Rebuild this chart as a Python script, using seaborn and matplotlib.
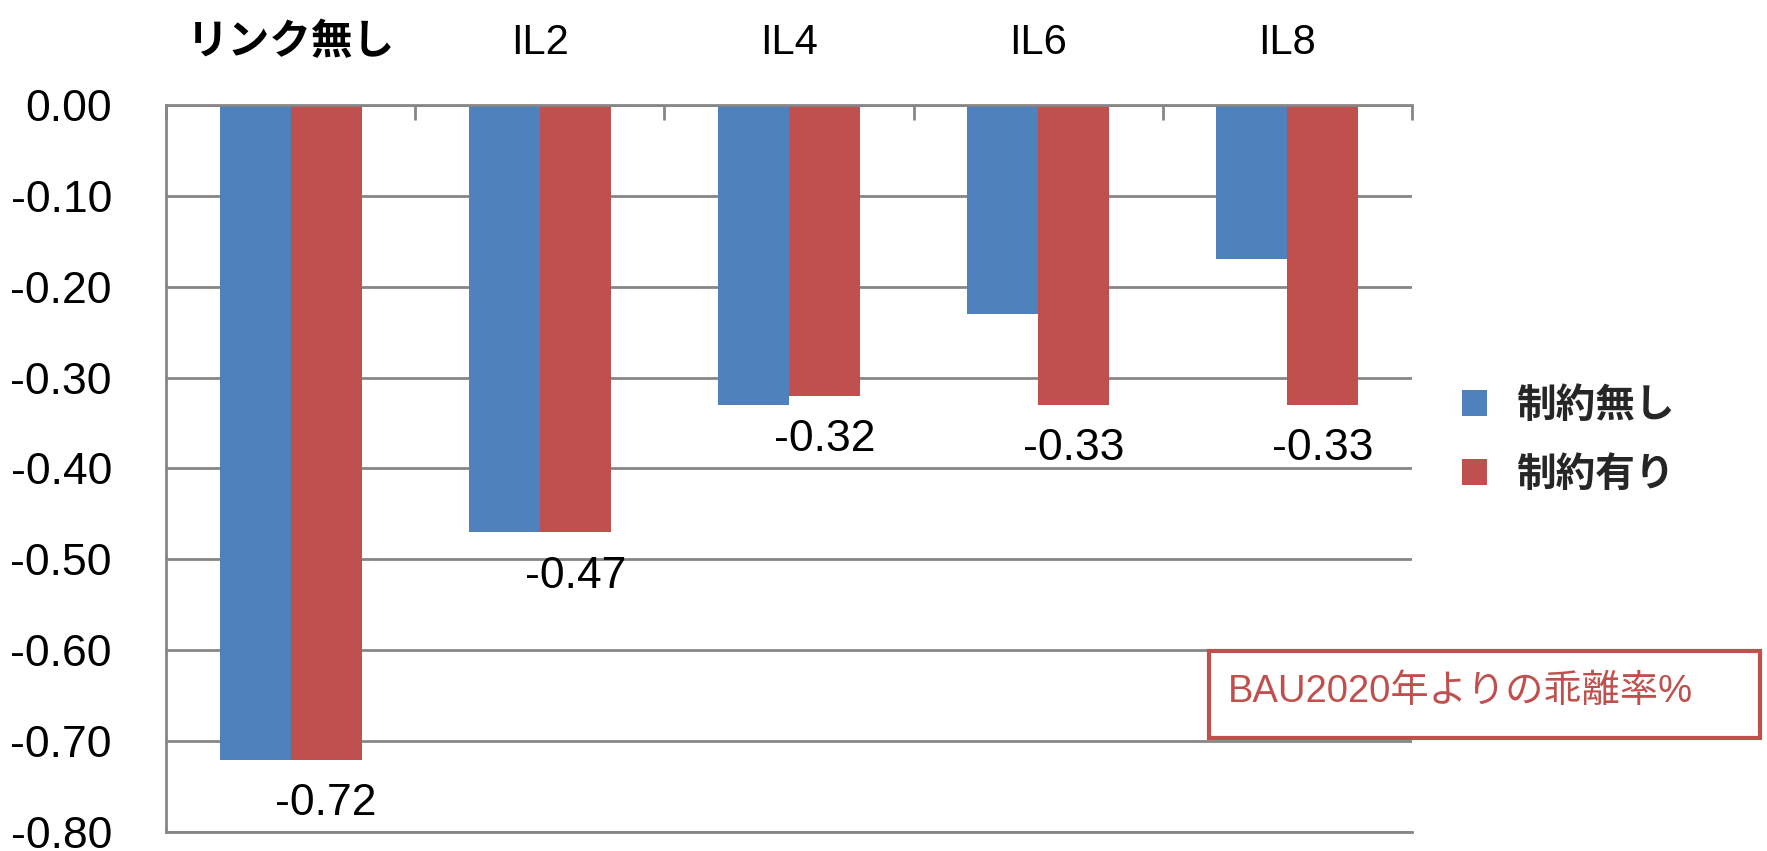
import matplotlib
matplotlib.use("Agg")
import numpy as np
import pandas as pd
import matplotlib.pyplot as plt
import seaborn as sns
from matplotlib import font_manager
from matplotlib.patches import Patch, Rectangle
from matplotlib.ticker import FixedLocator, FuncFormatter

# Data
categories = ["リンク無し", "IL2", "IL4", "IL6", "IL8"]
series_names = ["制約無し", "制約有り"]
unconstrained = [-0.72, -0.47, -0.33, -0.23, -0.17]
constrained = [-0.72, -0.47, -0.32, -0.33, -0.33]
y_ticks = [0.0, -0.1, -0.2, -0.3, -0.4, -0.5, -0.6, -0.7, -0.8]
note_text = "BAU2020年よりの乖離率%"

BLUE = "#4F81BD"
RED = "#C0504D"
GRID = "#868686"

sns.set_theme(style="white")
installed = {f.name for f in font_manager.fontManager.ttflist}
latin = "Liberation Sans Narrow" if "Liberation Sans Narrow" in installed else "Liberation Sans"
cjk = "Noto Sans CJK JP"
plt.rcParams["font.family"] = [latin, cjk, "DejaVu Sans"]
plt.rcParams["axes.unicode_minus"] = False

df = pd.DataFrame({
    "category": categories * 2,
    "series": [series_names[0]] * len(categories) + [series_names[1]] * len(categories),
    "value": unconstrained + constrained,
})

fig = plt.figure(figsize=(17.67, 8.51), dpi=100)
ax = fig.add_axes([0.094, 0.022, 0.705, 0.855])

sns.barplot(data=df, x="category", y="value", hue="series",
            order=categories, hue_order=series_names,
            palette=[BLUE, RED], saturation=1, width=0.57,
            linewidth=0, legend=False, ax=ax)

ax.set_ylim(-0.8, 0.0)
ax.set_xlim(-0.5, len(categories) - 0.5)
ax.set_xlabel("")
ax.set_ylabel("")

# y axis: ticks every 0.1 with horizontal gridlines
ax.yaxis.set_major_locator(FixedLocator(y_ticks))
ax.yaxis.set_major_formatter(FuncFormatter(lambda v, p: f"{abs(v):.2f}" if abs(v) < 1e-9 else f"{v:.2f}"))
ax.tick_params(axis="y", which="major", direction="out", length=11, width=2,
               color=GRID, labelsize=32, pad=28, labelcolor="black")
ax.yaxis.grid(True, color=GRID, linewidth=2)
ax.set_axisbelow(True)

# category labels on top, tick marks at category boundaries
ax.xaxis.tick_top()
ax.xaxis.set_major_locator(FixedLocator(range(len(categories))))
ax.set_xticklabels(categories)
ax.xaxis.set_minor_locator(FixedLocator(np.arange(-0.5, len(categories), 1.0)))
ax.tick_params(axis="x", which="major", length=0, labelsize=30, pad=30, labelcolor="black")
ax.tick_params(axis="x", which="minor", direction="in", length=11, width=2, color=GRID, top=True, bottom=False)
ax.get_xticklabels()[0].set_fontweight("bold")

for side in ["left", "top", "bottom"]:
    ax.spines[side].set_visible(True)
    ax.spines[side].set_color(GRID)
    ax.spines[side].set_linewidth(2)
ax.spines["right"].set_visible(False)

# value labels under the constrained bars
ax.bar_label(ax.containers[1], labels=[f"{v:.2f}" for v in constrained],
             padding=17, fontsize=32, color="black")

# legend
handles = [Patch(facecolor=BLUE, edgecolor="none"), Patch(facecolor=RED, edgecolor="none")]
fig.legend(handles, series_names, loc="center left",
           bbox_to_anchor=(1462 / 1767, 1 - 440 / 851), frameon=False,
           prop={"family": [cjk], "weight": "bold", "size": 28.5},
           handlelength=0.62, handleheight=0.62, handletextpad=0.75,
           labelspacing=0.72, borderpad=0, borderaxespad=0)

# note box
fig.add_artist(Rectangle((1209 / 1767, 1 - 738 / 851), 551 / 1767, 87 / 851,
                         transform=fig.transFigure, facecolor="white",
                         edgecolor=RED, linewidth=3, zorder=5))
fig.text(1228 / 1767, 1 - 692 / 851, note_text, color=RED, fontsize=27.5,
         ha="left", va="center", zorder=6, family=[latin, cjk])

fig.savefig("out.png", dpi=100)
